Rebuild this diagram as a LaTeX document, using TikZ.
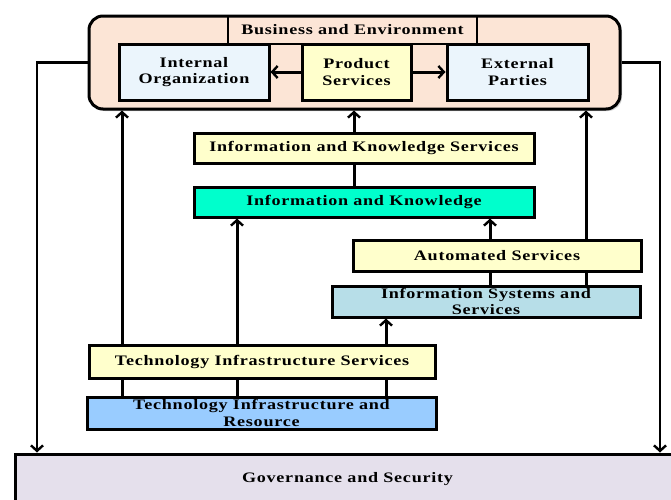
\documentclass[tikz,border=0pt]{standalone}
\usepackage{fontspec}
\setmainfont{Liberation Serif}[FakeStretch=1.25,LetterSpace=5]
\usetikzlibrary{arrows.meta,shadows}

\definecolor{peach}{RGB}{252,229,214}
\definecolor{paleblue}{RGB}{235,245,252}
\definecolor{paleyellow}{RGB}{255,255,204}
\definecolor{aqua}{RGB}{0,255,204}
\definecolor{powder}{RGB}{183,222,232}
\definecolor{skyblue}{RGB}{153,204,255}
\definecolor{lavender}{RGB}{229,224,236}

\begin{document}
\begin{tikzpicture}[x=1pt,y=-1pt,>={Straight Barb[length=5.5pt,width=12pt,line width=2.4pt]},line width=3pt,
    font=\bfseries\fontsize{14.5}{16.5}\selectfont]
    \tikzstyle{layer}=[draw,inner sep=0pt,align=center,
      drop shadow={shadow xshift=2pt,shadow yshift=-2pt,fill=black!35}]
    \tikzstyle{link}=[line width=3pt]
    \useasboundingbox (0,0) rectangle (671,499);

    \node[layer,fill=lavender,minimum width=665,minimum height=50] (gov) at (347.5,479) {Governance and Security};
    \node[layer,fill=peach,rounded corners=14pt,minimum width=531,minimum height=93] (biz) at (354.5,62.5) {};
    \node[draw,line width=1.6pt,minimum width=249,minimum height=28,inner sep=0pt] (title) at (352.5,30) {Business and Environment};
    \node[layer,fill=paleblue,minimum width=150,minimum height=56] (int) at (194,72) {Internal\\Organization};
    \node[layer,fill=paleyellow,minimum width=109,minimum height=56] (prod) at (356.5,72) {Product\\Services};
    \node[layer,fill=paleblue,minimum width=141,minimum height=56] (ext) at (517.5,72) {External\\Parties};

    \node[layer,fill=paleyellow,minimum width=340,minimum height=30] (iks) at (364,148) {Information and Knowledge Services};
    \node[layer,fill=aqua,minimum width=340,minimum height=30] (ik) at (364,202) {Information and Knowledge};
    \node[layer,fill=paleyellow,minimum width=288,minimum height=31] (auto) at (497,255.5) {Automated Services};
    \node[layer,fill=powder,minimum width=308,minimum height=31] (iss) at (486,301.5) {Information Systems and\\Services};
    \node[layer,fill=paleyellow,minimum width=346,minimum height=33] (tis) at (262,361.5) {Technology Infrastructure Services};
    \node[layer,fill=skyblue,minimum width=349,minimum height=32] (tr) at (261.5,413) {Technology Infrastructure and\\Resource};

    \coordinate (gl) at (37,0);
    \coordinate (gr) at (660,0);
    \coordinate (xa) at (122,0);
    \coordinate (xb) at (237,0);
    \coordinate (xc) at (386,0);
    \coordinate (xd) at (354,0);
    \coordinate (xe) at (490,0);
    \coordinate (xf) at (586,0);

    % inside the business box
    \draw[link,->] (prod) -- (int);
    \draw[link,->] (prod) -- (ext);

    % to governance
    \draw[line width=2.2pt,->] (biz.west) -| (gov.north -| gl);
    \draw[line width=2.2pt,->] (biz.east) -| (gov.north -| gr);

    % upward flows
    \draw[link,->] (iks.north -| xd) -- (biz.south -| xd);
    \draw[link] (ik.north -| xd) -- (iks.south -| xd);
    \draw[link,->] (auto.north -| xe) -- (ik.south -| xe);
    \draw[link,->] (auto.north -| xf) -- (biz.south -| xf);
    \foreach \c in {xe,xf}
      \draw[link] (iss.north -| \c) -- (auto.south -| \c);
    \draw[link,->] (tis.north -| xa) -- (biz.south -| xa);
    \draw[link,->] (tis.north -| xb) -- (ik.south -| xb);
    \draw[link,->] (tis.north -| xc) -- (iss.south -| xc);
    \foreach \c in {xa,xb,xc}
      \draw[link] (tr.north -| \c) -- (tis.south -| \c);
\end{tikzpicture}
\end{document}
